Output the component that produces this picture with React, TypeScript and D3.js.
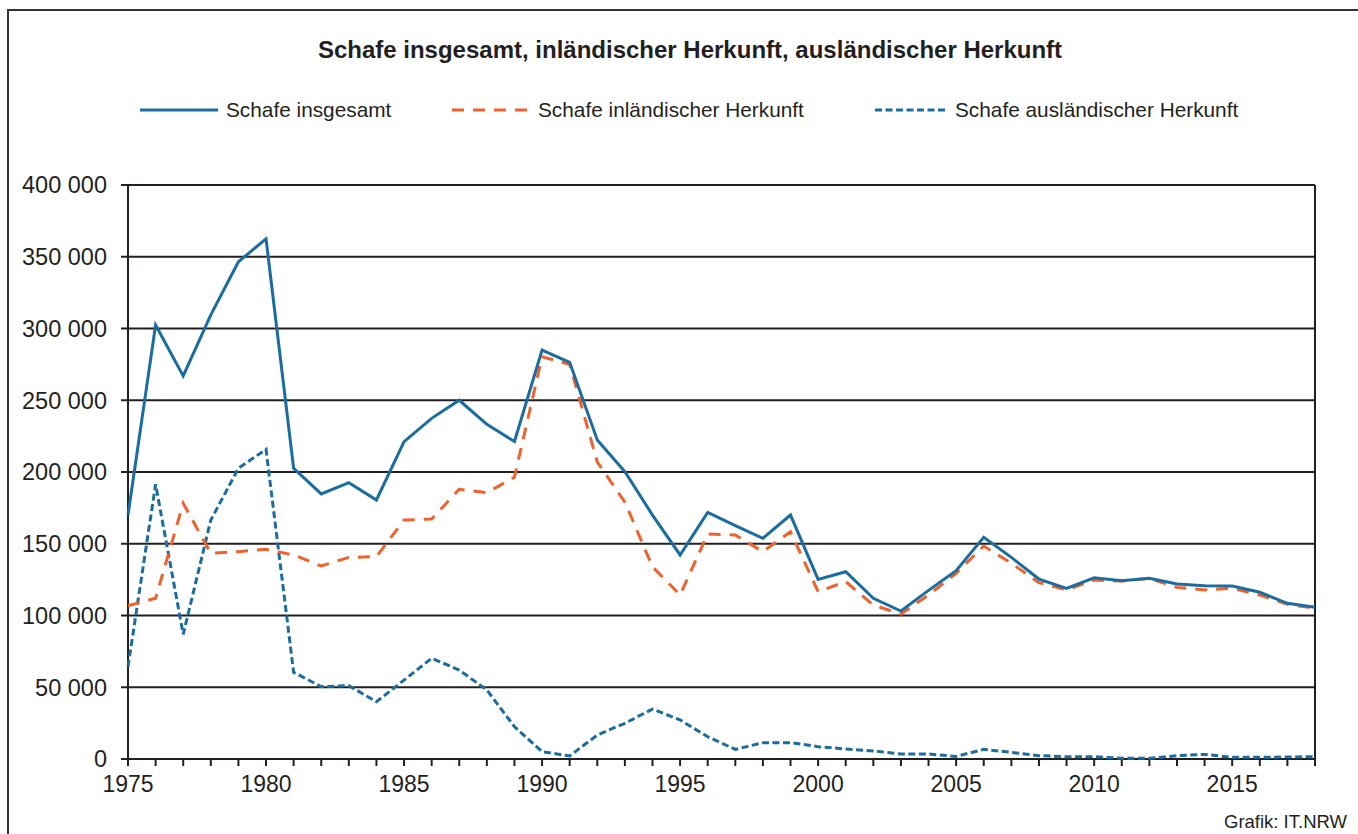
import * as d3 from "d3";

const W = 1358;
const H = 834;
const MARGIN = { top: 185, right: 43, bottom: 75, left: 128 };

const years = d3.range(1975, 2019);

// Schafe insgesamt
const insgesamt = [
  170000, 302500, 267000, 309500, 346500, 362500, 202600, 184700, 192600, 180500,
  221100, 237400, 250000, 233200, 221300, 285000, 276400, 222300, 200200, 170000,
  142200, 171900, 162600, 153800, 170000, 125200, 130500, 112000, 103100, 117500,
  131200, 154500, 140500, 125400, 118900, 126300, 124300, 125900, 121900, 120800,
  120600, 116200, 108500, 105700,
];

// Schafe inländischer Herkunft
const inland = [
  106800, 112000, 178200, 143300, 144500, 146100, 142200, 134500, 140500, 141000,
  166500, 167200, 188000, 185600, 196400, 280300, 275000, 207000, 179000, 134000,
  114300, 156800, 156100, 144500, 158400, 116600, 123600, 107300, 101000, 114300,
  129400, 148400, 136400, 122900, 117800, 124700, 124000, 125900, 119600, 117800,
  118900, 114300, 107800, 105000,
];

// Schafe ausländischer Herkunft
const ausland = [
  64300, 191400, 86900, 166500, 202600, 215800, 60400, 50400, 51100, 39900,
  55000, 70200, 62000, 48100, 22500, 5100, 2100, 16700, 24900, 34800,
  27200, 15500, 6700, 11400, 11400, 8600, 7000, 5600, 3500, 3500,
  1800, 6700, 4600, 2300, 1600, 1600, 500, 500, 2300, 3200,
  1200, 1200, 1400, 1600,
];

const yTicks = [0, 50000, 100000, 150000, 200000, 250000, 300000, 350000, 400000];
const xLabelYears = [1975, 1980, 1985, 1990, 1995, 2000, 2005, 2010, 2015];

const BLUE = "#1b6c9f";
const ORANGE = "#f0622d";
const GRID = "#231f20";
const FONT = "'Liberation Sans', Arial, sans-serif";

const series = [
  { name: "Schafe insgesamt", values: insgesamt, color: BLUE, dash: "none" },
  { name: "Schafe inländischer Herkunft", values: inland, color: ORANGE, dash: "12 9" },
  { name: "Schafe ausländischer Herkunft", values: ausland, color: BLUE, dash: "7 3.5" },
];

const legendPos = [
  { x: 140, len: 78 },
  { x: 452, len: 78 },
  { x: 875, len: 72 },
];

export default function App() {
  const boundsWidth = W - MARGIN.left - MARGIN.right;
  const boundsHeight = H - MARGIN.top - MARGIN.bottom;

  const xScale = d3.scaleLinear().domain([1975, 2018]).range([0, boundsWidth]);
  const yScale = d3.scaleLinear().domain([0, 400000]).range([boundsHeight, 0]);

  const lineBuilder = d3
    .line<number>()
    .x((_, i) => xScale(years[i]))
    .y((d) => yScale(d));

  return (
    <svg
      width={W}
      height={H}
      style={{ position: "absolute", left: 0, top: 0, background: "#fff" }}
      fontFamily={FONT}
    >
      {/* outer frame, cut at the right and bottom */}
      <path d={`M8,${H + 5} L8,10 L${W + 5},10`} fill="none" stroke="#333" strokeWidth={2} />

      <text x={690} y={58} textAnchor="middle" fontSize={24} fontWeight="bold" fill="#231f20">
        Schafe insgesamt, inländischer Herkunft, ausländischer Herkunft
      </text>

      {/* legend */}
      {series.map((s, i) => (
        <g key={s.name}>
          <line
            x1={legendPos[i].x}
            x2={legendPos[i].x + legendPos[i].len}
            y1={110}
            y2={110}
            stroke={s.color}
            strokeWidth={3}
            strokeDasharray={s.dash}
          />
          <text x={legendPos[i].x + legendPos[i].len + 8} y={117} fontSize={20.8} fill="#231f20">
            {s.name}
          </text>
        </g>
      ))}

      <g transform={`translate(${MARGIN.left},${MARGIN.top})`}>
        {/* gridlines + y ticks */}
        {yTicks.map((t) => (
          <g key={t}>
            <line x1={-7} x2={boundsWidth} y1={yScale(t)} y2={yScale(t)} stroke={GRID} strokeWidth={2} />
            <text
              x={-21}
              y={yScale(t)}
              dy="0.36em"
              textAnchor="end"
              fontSize={23.5}
              fill="#231f20"
            >
              {d3.format(",")(t).replace(/,/g, " ")}
            </text>
          </g>
        ))}
        {/* left axis and right frame */}
        <line x1={0} x2={0} y1={0} y2={boundsHeight + 7} stroke={GRID} strokeWidth={2} />
        <line x1={boundsWidth} x2={boundsWidth} y1={0} y2={boundsHeight + 7} stroke={GRID} strokeWidth={2} />
        {/* x ticks */}
        {years.map((y) => (
          <line
            key={y}
            x1={xScale(y)}
            x2={xScale(y)}
            y1={boundsHeight}
            y2={boundsHeight + 7}
            stroke={GRID}
            strokeWidth={2}
          />
        ))}
        {xLabelYears.map((y) => (
          <text key={y} x={xScale(y)} y={boundsHeight + 33} textAnchor="middle" fontSize={23} fill="#231f20">
            {y}
          </text>
        ))}

        {/* lines */}
        {series
          .slice()
          .reverse()
          .map((s) => (
            <path
              key={s.name}
              d={lineBuilder(s.values) || ""}
              fill="none"
              stroke={s.color}
              strokeWidth={3}
              strokeDasharray={s.dash}
              strokeLinejoin="miter"
            />
          ))}
      </g>

      <text x={1347} y={828} textAnchor="end" fontSize={18.5} fill="#231f20">
        Grafik: IT.NRW
      </text>
    </svg>
  );
}
